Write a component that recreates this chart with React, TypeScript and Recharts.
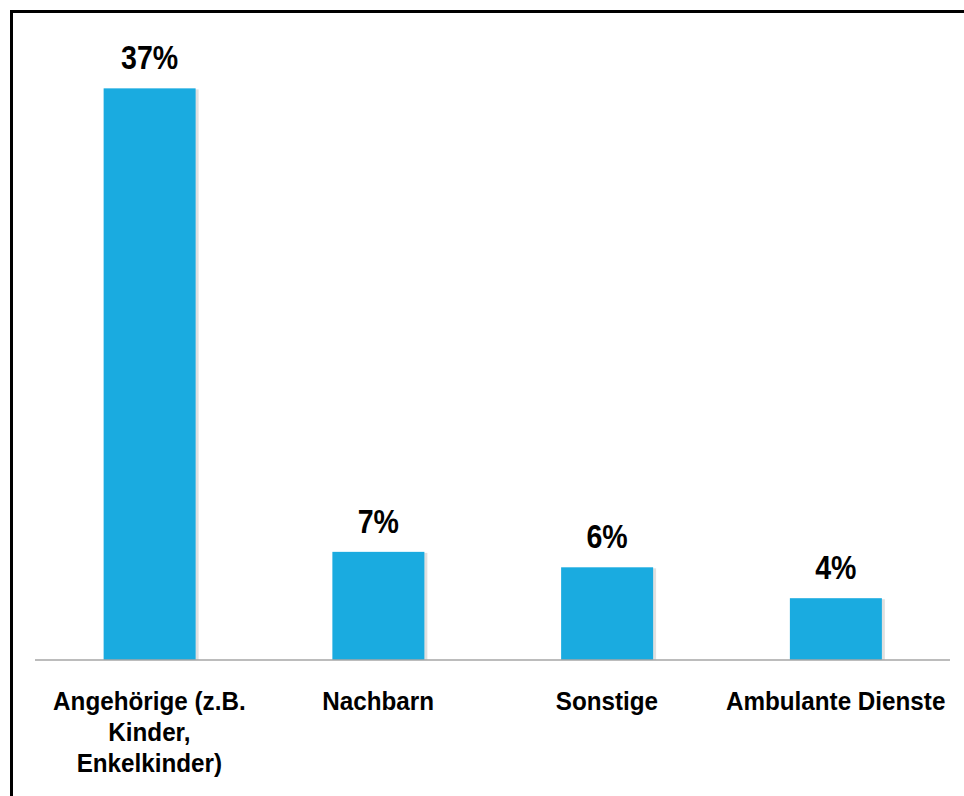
import { Bar, BarChart, LabelList, XAxis, YAxis } from 'recharts';

const categories = ['Angehörige (z.B.\nKinder,\nEnkelkinder)', 'Nachbarn', 'Sonstige', 'Ambulante Dienste'];
const shares = [37, 7, 6, 4];

const data = categories.map((name, i) => ({ name, value: shares[i] }));

const FONT = '"Liberation Sans", Arial, sans-serif';

// narrow bold look of the original: squeeze the glyphs horizontally
function CategoryTick({ x, y, payload }: any) {
  const lines = String(payload.value).split('\n');
  return (
    <g transform={`translate(${x},${y}) scale(0.97,1)`}>
      <text x={0} y={0} textAnchor="middle" fontFamily={FONT} fontWeight="bold" fontSize={25} fill="#000">
        {lines.map((line, i) => (
          <tspan key={i} x={0} dy={i === 0 ? 50 : 31}>
            {line}
          </tspan>
        ))}
      </text>
    </g>
  );
}

function PctLabel({ x, y, width, value }: any) {
  const cx = Number(x) + Number(width) / 2;
  return (
    <g transform={`translate(${cx},${Number(y) - 19}) scale(0.84,1)`}>
      <text x={0} y={0} textAnchor="middle" fontFamily={FONT} fontWeight="bold" fontSize={34} fill="#000">
        {`${value}%`}
      </text>
    </g>
  );
}

function ShadowBar({ x, y, width, height, fill }: any) {
  return (
    <g>
      <rect x={x + 1} y={y + 1} width={width + 2} height={Math.max(height - 1, 0)} fill="rgba(0,0,0,0.12)" />
      <rect x={x} y={y} width={width} height={height} fill={fill} />
    </g>
  );
}

export default function App() {
  return (
    <div style={{ position: 'absolute', left: 0, top: 0, width: 964, height: 796, overflow: 'hidden', background: '#fff' }}>
      <div
        style={{
          position: 'absolute',
          left: 10,
          top: 10,
          width: 1000,
          height: 1000,
          borderLeft: '3px solid #000',
          borderTop: '3px solid #000',
        }}
      />
      <div style={{ position: 'absolute', left: 0, top: 0 }}>
        <BarChart
          width={964}
          height={796}
          data={data}
          margin={{ top: 42, right: 14, bottom: 0, left: 35 }}
          barCategoryGap="30%"
        >
          <XAxis
            dataKey="name"
            height={136}
            tickLine={false}
            tickSize={0}
            tickMargin={0}
            axisLine={{ stroke: '#a6a6a6', strokeWidth: 1.5 }}
            tick={<CategoryTick />}
            interval={0}
          />
          <YAxis hide domain={[0, 40]} />
          <Bar dataKey="value" fill="#1aabe0" shape={<ShadowBar />} isAnimationActive={false}>
            <LabelList dataKey="value" content={<PctLabel />} />
          </Bar>
        </BarChart>
      </div>
    </div>
  );
}
